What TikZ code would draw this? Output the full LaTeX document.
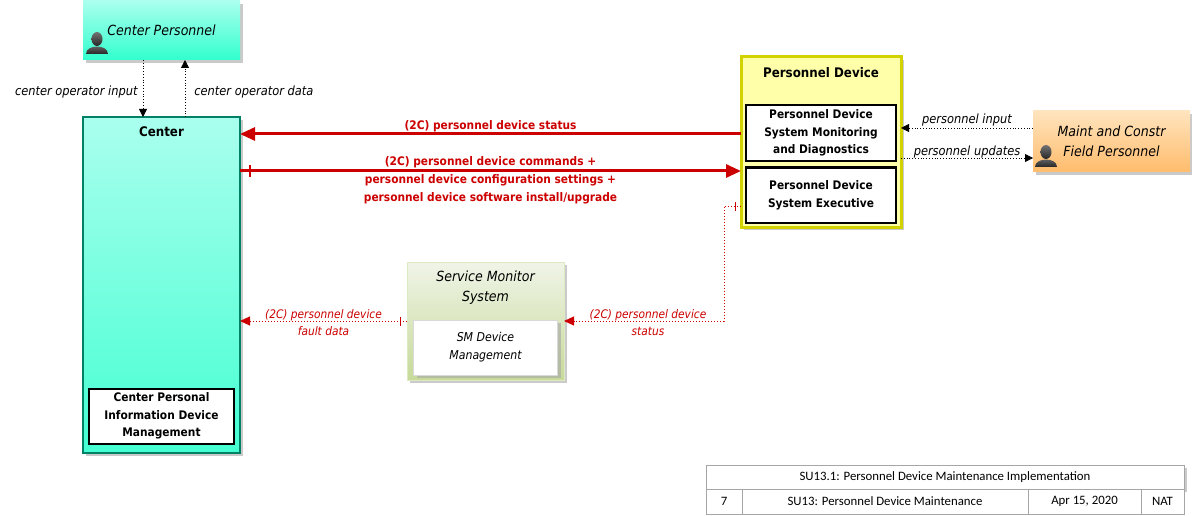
\documentclass[tikz,border=0pt]{standalone}
\usepackage{fontspec}
\setmainfont{DejaVu Sans}[FakeStretch=0.9]
\newfontfamily\blockfont{Carlito}
\usetikzlibrary{positioning, arrows.meta, shadows, calc, decorations.markings}
\definecolor{flowred}{RGB}{204,0,0}
\definecolor{tealline}{RGB}{0,128,100}
\definecolor{cyantop}{RGB}{170,255,238}
\definecolor{cyanbot}{RGB}{50,255,205}
\definecolor{devfill}{RGB}{255,255,170}
\definecolor{devline}{RGB}{210,210,0}
\definecolor{orangetop}{RGB}{255,228,190}
\definecolor{orangebot}{RGB}{255,188,108}
\definecolor{smtop}{RGB}{240,244,232}
\definecolor{smbot}{RGB}{198,218,152}

\begin{document}
\begin{tikzpicture}[x=1pt, y=-1pt,
  element/.style={rectangle,
    inner sep=0pt,
    outer sep=0pt,
    drop shadow={shadow xshift=3pt, shadow yshift=-3pt, fill=black!35, opacity=0.6}},
  personbox/.style={element, top color=#1top, bottom color=#1bot},
  innerbox/.style={rectangle,
    draw,
    fill=white,
    line width=2.5pt,
    inner sep=0pt,
    align=center,
    font=\bfseries\fontsize{11.8}{17.5}\selectfont},
  titletext/.style={inner sep=0pt, font=\bfseries\fontsize{13.2}{14}\selectfont},
  ittext/.style={inner sep=0pt, align=center, font=\itshape\fontsize{14}{20}\selectfont},
  flowlabel/.style={inner sep=0pt, align=center, font=\itshape\fontsize{12.7}{14}\selectfont},
  redlabel/.style={inner sep=0pt, align=center, text=flowred,
    font=\bfseries\fontsize{11.8}{18}\selectfont},
  reditlabel/.style={inner sep=0pt, align=center, text=flowred,
    font=\itshape\fontsize{11.8}{17}\selectfont},
  userflow/.style={dotted, line width=0.8pt, -{Triangle[length=8pt, width=8pt]}},
  mainflow/.style={flowred, line width=3pt, -{Triangle[length=15pt, width=13pt]}},
  dotflow/.style={flowred, dotted, line width=1pt, -{Triangle[length=10pt, width=9pt]}},
  tick/.style={decoration={markings,
      mark=at position #1 with {\draw[solid, -, line width=2pt] (0pt,-6pt) -- (0pt,6pt);}},
    postaction={decorate}},
  smalltick/.style={decoration={markings,
      mark=at position #1 with {\draw[solid, -, line width=0.8pt] (0pt,-4.5pt) -- (0pt,4.5pt);}},
    postaction={decorate}},
  blockcell/.style={rectangle,
    draw=gray!70,
    fill=white,
    line width=0.8pt,
    inner sep=0pt,
    outer sep=0pt,
    font=\blockfont\fontsize{12.8}{14}\selectfont},
  personicon/.pic={
    \shade[top color=black!55, bottom color=black!85]
      (-11,0) .. controls (-11,-10) and (11,-10) .. (11,0) -- cycle;
    \shade[top color=black!55, bottom color=black!85] (0,-15) ellipse (5.5pt and 7pt);
  }]
  \useasboundingbox (0,0) rectangle (1192,516);

  % ELEMENTS

  \node[personbox=cyan,
    minimum width=157pt,
    minimum height=59pt,
    anchor=north west] (cpers) at (83,1) {};
  \node[ittext] (cperstitle) at (cpers.center) {Center Personnel};
  \pic at (97,54) {personicon};

  \node[element,
    draw=tealline,
    line width=2.5pt,
    top color=cyantop,
    bottom color=cyanbot!85!cyantop,
    minimum width=157pt,
    minimum height=336pt,
    anchor=north west] (center) at (83,117) {};
  \node[titletext, below=10pt of center.north] (centertitle) {Center};
  \node[innerbox,
    minimum width=145pt,
    minimum height=55pt,
    above=8pt of center.south] (cpidm) {Center Personal\\Information Device\\Management};

  \node[element,
    draw=devline,
    line width=3pt,
    fill=devfill,
    minimum width=160pt,
    minimum height=170pt,
    anchor=north west] (pd) at (741,57) {};
  \node[titletext, below=10pt of pd.north] (pdtitle) {Personnel Device};
  \node[innerbox,
    minimum width=150pt,
    minimum height=56pt,
    below=47pt of pd.north] (pdsmd) {Personnel Device\\System Monitoring\\and Diagnostics};
  \node[innerbox,
    minimum width=150pt,
    minimum height=55pt,
    below=4pt of pdsmd] (pdexec) {Personnel Device\\System Executive};

  \node[personbox=orange,
    minimum width=157pt,
    minimum height=61pt,
    anchor=north west] (mcfp) at (1033,111) {};
  \node[ittext] (mcfptitle) at (mcfp.center) {Maint and Constr\\Field Personnel};
  \pic at (1046,167) {personicon};

  \node[element,
    draw=smbot!60,
    line width=0.6pt,
    top color=smtop,
    bottom color=smbot,
    minimum width=157pt,
    minimum height=118pt,
    anchor=north west] (sms) at (407,262) {};
  \node[ittext, below=9pt of sms.north] (smstitle) {Service Monitor\\System};
  \node[element,
    draw=gray!30,
    fill=white,
    minimum width=144pt,
    minimum height=55pt,
    align=center,
    font=\itshape\fontsize{12.2}{18}\selectfont,
    above=5pt of sms.south] (smdm) {SM Device\\Management};

  % FLOWS

  \coordinate (coiB) at ([xshift=-18.5pt]center.north);
  \coordinate (codB) at ([xshift=23.5pt]center.north);
  \draw[userflow] (coiB |- cpers.south) -- (coiB)
    node[flowlabel, midway, left=5pt, yshift=-3pt] (coilabel) {center operator input};
  \draw[userflow] (codB) -- (codB |- cpers.south)
    node[flowlabel, midway, right=9pt, yshift=-3pt] (codlabel) {center operator data};

  \coordinate (piR) at ([yshift=13.5pt]mcfp.west);
  \coordinate (puR) at ([yshift=-16.5pt]mcfp.west);
  \draw[userflow] (piR) -- (piR -| pd.east)
    node[flowlabel, midway, above=1pt] (pilabel) {personnel input};
  \draw[userflow] (puR -| pd.east) -- (puR)
    node[flowlabel, midway, above=-1pt] (pulabel) {personnel updates};

  \coordinate (statR) at ([yshift=8pt]pd.west);
  \coordinate (cmdR) at ([yshift=-29pt]pd.west);
  \draw[mainflow] (statR) -- (statR -| center.east)
    node[redlabel, midway, above=1pt] (statlabel) {(2C) personnel device status};
  \draw[mainflow, tick=10pt] (cmdR -| center.east) -- (cmdR)
    node[redlabel, midway, yshift=-9pt] (cmdlabel) {(2C) personnel device commands +\\
      personnel device configuration settings +\\personnel device software install/upgrade};

  \coordinate (sdR) at ([yshift=-64pt]pd.west);
  \draw[dotflow, smalltick=6pt] (sdR) -- ++(-17,0) |- (sms.east)
    node[reditlabel, pos=0.75, yshift=-2pt, xshift=4pt] (sdlabel) {(2C) personnel device\\status};
  \draw[dotflow, smalltick=7pt] (sms.west) -- (sms.west -| center.east)
    node[reditlabel, midway, yshift=-2pt] (fdlabel) {(2C) personnel device\\fault data};

  % TITLE BLOCK

  \node[blockcell,
    minimum width=478pt,
    minimum height=24pt,
    anchor=north west,
    drop shadow={shadow xshift=3pt, shadow yshift=-3pt, fill=black!35, opacity=0.6}] (tbtitle) at (706,465)
    {SU13.1: Personnel Device Maintenance Implementation};
  \node[blockcell,
    minimum width=36pt,
    minimum height=25pt,
    below right=0pt and 0pt of tbtitle.south west] (tbnum) {7};
  \node[blockcell, minimum width=286pt, minimum height=25pt, right=0pt of tbnum] (tbname) {SU13: Personnel Device Maintenance};
  \node[blockcell, minimum width=113pt, minimum height=25pt, right=0pt of tbname] (tbdate) {Apr 15, 2020};
  \node[blockcell, minimum width=43pt, minimum height=25pt, right=0pt of tbdate] (tbarch) {NAT};

\end{tikzpicture}
\end{document}
